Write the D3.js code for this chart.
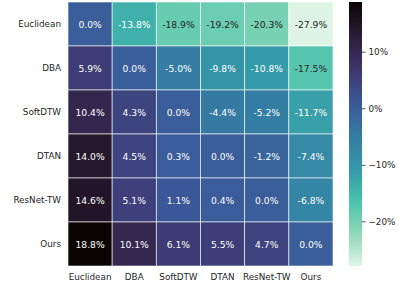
<!DOCTYPE html>
<html>
<head>
<meta charset="utf-8">
<script src="https://cdn.jsdelivr.net/npm/d3@7"></script>
<style>
  html, body { margin: 0; padding: 0; background: #fff; }
  svg text { font-family: "DejaVu Sans", sans-serif; }
</style>
</head>
<body>
<svg id="chart" width="399" height="285"></svg>
<script>
'use strict';

// methods, used for both rows and columns
const methods = ['Euclidean', 'DBA', 'SoftDTW', 'DTAN', 'ResNet-TW', 'Ours'];

// relative improvement (%) of row method over column method
const rowEuclidean = [0.0, -13.8, -18.9, -19.2, -20.3, -27.9];
const rowDBA = [5.9, 0.0, -5.0, -9.8, -10.8, -17.5];
const rowSoftDTW = [10.4, 4.3, 0.0, -4.4, -5.2, -11.7];
const rowDTAN = [14.0, 4.5, 0.3, 0.0, -1.2, -7.4];
const rowResNetTW = [14.6, 5.1, 1.1, 0.4, 0.0, -6.8];
const rowOurs = [18.8, 10.1, 6.1, 5.5, 4.7, 0.0];

const colorbarTicks = [10, 0, -10, -20];

// mako colormap stops (seaborn), reversed below
const makoStops = ['#0b0405', '#2b1c35', '#3e356b', '#3b5698', '#357ba2',
  '#3497a9', '#49c1ad', '#8bd8b4', '#def5e5'];

const rows = [rowEuclidean, rowDBA, rowSoftDTW, rowDTAN, rowResNetTW, rowOurs];

const svg = d3.select('#chart');
const margin = { left: 68, top: 2, right: 333, bottom: 266 };

const allValues = rows.flat();
const vmin = d3.min(allValues);
const vmax = d3.max(allValues);

// mako_r: low values light, high values dark
const color = d3.scaleLinear()
  .domain(makoStops.map((_, i) => vmax - i * (vmax - vmin) / (makoStops.length - 1)))
  .range(makoStops)
  .interpolate(d3.interpolateRgb)
  .clamp(true);

const x = d3.scaleBand().domain(methods).range([margin.left, margin.right]);
const y = d3.scaleBand().domain(methods).range([margin.top, margin.bottom]);

function luminance(c) {
  const rgb = d3.rgb(c);
  const lin = [rgb.r, rgb.g, rgb.b].map(v => {
    v /= 255;
    return v <= 0.03928 ? v / 12.92 : Math.pow((v + 0.055) / 1.055, 2.4);
  });
  return 0.2126 * lin[0] + 0.7152 * lin[1] + 0.0722 * lin[2];
}

const cells = [];
rows.forEach((vals, i) => {
  vals.forEach((v, j) => {
    cells.push({ row: methods[i], col: methods[j], value: v });
  });
});

const cellGroup = svg.append('g');
cellGroup.selectAll('rect')
  .data(cells)
  .join('rect')
  .attr('x', d => x(d.col))
  .attr('y', d => y(d.row))
  .attr('width', x.bandwidth())
  .attr('height', y.bandwidth())
  .attr('fill', d => color(d.value))
  .attr('stroke', '#ffffff')
  .attr('stroke-opacity', 0.75)
  .attr('stroke-width', 0.8);

cellGroup.selectAll('text')
  .data(cells)
  .join('text')
  .attr('x', d => x(d.col) + x.bandwidth() / 2)
  .attr('y', d => y(d.row) + y.bandwidth() / 2)
  .attr('text-anchor', 'middle')
  .attr('dominant-baseline', 'central')
  .style('font-size', '9.2px')
  .attr('fill', d => luminance(color(d.value)) > 0.408 ? '#262626' : '#ffffff')
  .text(d => d.value.toFixed(1) + '%');

// axes without tick marks
const xAxis = svg.append('g')
  .attr('transform', `translate(0,${margin.bottom})`)
  .call(d3.axisBottom(x).tickSize(0).tickPadding(8));
const yAxis = svg.append('g')
  .attr('transform', `translate(${margin.left},0)`)
  .call(d3.axisLeft(y).tickSize(0).tickPadding(7));
[xAxis, yAxis].forEach(ax => {
  ax.select('.domain').remove();
  ax.selectAll('text')
    .style('font-family', '"DejaVu Sans", sans-serif')
    .style('font-size', '8.8px')
    .attr('fill', '#262626');
});

// colorbar
const cbX = 349;
const cbW = 13;
const cbScale = d3.scaleLinear().domain([vmin, vmax]).range([margin.bottom, margin.top]);

const defs = svg.append('defs');
const grad = defs.append('linearGradient')
  .attr('id', 'cb-grad')
  .attr('x1', 0).attr('y1', 1).attr('x2', 0).attr('y2', 0);
d3.range(0, 1.0001, 0.05).forEach(t => {
  grad.append('stop')
    .attr('offset', t)
    .attr('stop-color', color(vmin + t * (vmax - vmin)));
});

svg.append('rect')
  .attr('x', cbX)
  .attr('y', margin.top)
  .attr('width', cbW)
  .attr('height', margin.bottom - margin.top)
  .attr('fill', 'url(#cb-grad)');

const cbAxis = svg.append('g')
  .attr('transform', `translate(${cbX + cbW},0)`)
  .call(d3.axisRight(cbScale)
    .tickValues(colorbarTicks)
    .tickSize(3.5)
    .tickPadding(3)
    .tickFormat(d => (d < 0 ? '\u2212' + Math.abs(d) : d) + '%'));
cbAxis.select('.domain').remove();
cbAxis.selectAll('line').attr('stroke', '#262626').attr('stroke-width', 0.8);
cbAxis.selectAll('text')
  .style('font-family', '"DejaVu Sans", sans-serif')
  .style('font-size', '8.8px')
  .attr('fill', '#262626');
</script>
</body>
</html>
